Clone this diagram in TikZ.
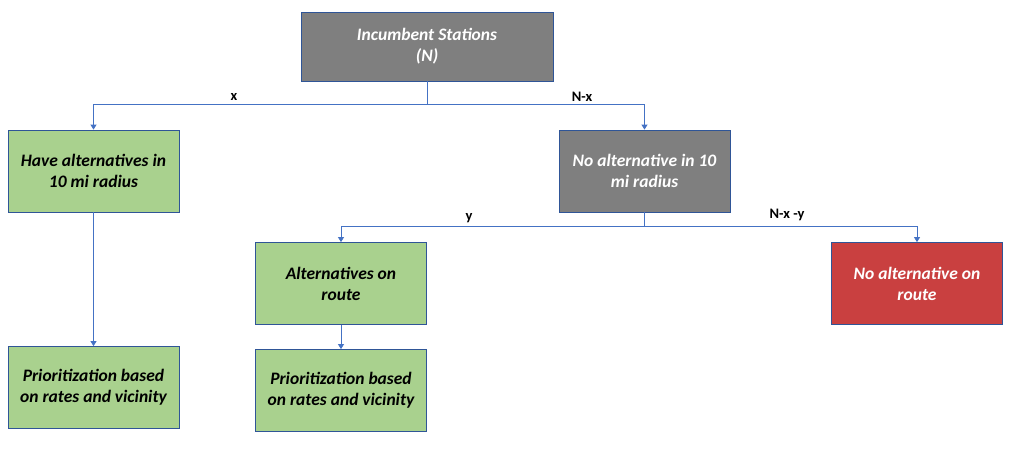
\documentclass[tikz,border=0pt]{standalone}
\usepackage{fontspec}
\setmainfont{Carlito}
\usetikzlibrary{arrows.meta}
\definecolor{boxgray}{HTML}{7F7F7F}
\definecolor{boxgreen}{HTML}{A9D18E}
\definecolor{boxred}{HTML}{C94040}
\definecolor{edgeblue}{HTML}{2F5597}
\definecolor{linkblue}{HTML}{4472C4}
\tikzset{
  box/.style={draw=edgeblue, line width=0.8pt, minimum width=171pt, minimum height=82pt,
    align=center, font=\fontsize{17.5}{21}\selectfont\bfseries\itshape, inner sep=0pt},
  graybox/.style={box, fill=boxgray, text=white},
  greenbox/.style={box, fill=boxgreen, text=black},
  redbox/.style={box, fill=boxred, text=white},
  link/.style={draw=linkblue, line width=0.8pt},
  arr/.style={link, -{Triangle[width=6pt,length=5pt]}},
  lbl/.style={font=\fontsize{14.5}{16}\selectfont\bfseries, text=black, inner sep=0pt}
}
\begin{document}
\begin{tikzpicture}[x=1pt,y=-1pt]
\useasboundingbox (0,0) rectangle (1024,452);
\node[graybox, minimum width=252pt, minimum height=69pt] (top) at (427,46.5) {Incumbent Stations\\(N)};
\node[greenbox] (have) at (93.5,171) {Have alternatives in\\10 mi radius};
\node[graybox] (noalt) at (644.5,171) {No alternative in 10\\mi radius};
\node[greenbox] (route) at (341,283.5) {Alternatives on\\route};
\node[redbox] (noroute) at (917,283.5) {No alternative on\\route};
\node[greenbox] (prio1) at (93.5,387.5) {Prioritization based\\on rates and vicinity};
\node[greenbox] (prio2) at (341,390.5) {Prioritization based\\on rates and vicinity};
\coordinate (j1) at (427,104);
\coordinate (j2) at (644.5,226);
\draw[link] (top.south) -- (j1);
\draw[arr] (j1) -| (have.north);
\draw[arr] (j1) -| (noalt.north);
\draw[link] (noalt.south) -- (j2);
\draw[arr] (j2) -| (route.north);
\draw[arr] (j2) -| (noroute.north);
\draw[arr] (have.south) -- (prio1.north);
\draw[arr] (route.south) -- (prio2.north);
\node[lbl] (lx) at (234,97) {x};
\node[lbl] (lnx) at (582,97) {N-x};
\node[lbl] (ly) at (469,218) {y};
\node[lbl] (lnxy) at (787,215) {N-x -y};
\end{tikzpicture}
\end{document}
